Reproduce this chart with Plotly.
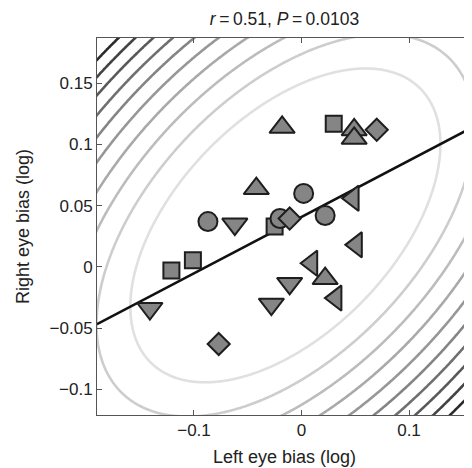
import numpy as np
import plotly.graph_objects as go

# ---- data ----
square_x = [-0.121, -0.101, -0.025, 0.030]
square_y = [-0.003, 0.0055, 0.033, 0.117]
circle_x = [-0.087, -0.020, 0.002, 0.022]
circle_y = [0.037, 0.0395, 0.060, 0.042]
diamond_x = [-0.011, 0.070, -0.077]
diamond_y = [0.0395, 0.112, -0.063]
tri_up_x = [-0.018, -0.042, 0.049, 0.049, 0.022]
tri_up_y = [0.114, 0.064, 0.112, 0.105, -0.0095]
tri_down_x = [-0.062, -0.141, -0.028, -0.011]
tri_down_y = [0.035, -0.034, -0.0305, -0.0135]
tri_left_x = [0.048, 0.051, 0.0095, 0.032]
tri_left_y = [0.056, 0.018, 0.003, -0.0255]

x_ticks = [-0.1, 0, 0.1]
x_tick_labels = ["\u22120.1", "0", "0.1"]
y_ticks = [-0.1, -0.05, 0, 0.05, 0.1, 0.15]
y_tick_labels = ["\u22120.1", "\u22120.05", "0", "0.05", "0.1", "0.15"]

x_range = [-0.1902, 0.1586]
y_range = [-0.121, 0.187]

# Mahalanobis contour levels (in squared-distance units)
contour_start = 6.1
contour_step = 2.95
contour_colors = ['#e0e0e0', '#cdcdcd', '#bcbcbc', '#a9a9a9', '#979797',
                  '#848484', '#6f6f6f', '#595959', '#434343', '#2a2a2a']

title_text = "<i>r</i>\u2009=\u20090.51, <i>P</i>\u2009=\u20090.0103"

# ---- derived ----
all_x = np.array(square_x + circle_x + diamond_x + tri_up_x + tri_down_x + tri_left_x)
all_y = np.array(square_y + circle_y + diamond_y + tri_up_y + tri_down_y + tri_left_y)
mx, my = all_x.mean(), all_y.mean()
cov = np.cov(np.vstack([all_x, all_y]))
icov = np.linalg.inv(cov)

gx = np.linspace(x_range[0] - 0.01, x_range[1] + 0.01, 300)
gy = np.linspace(y_range[0] - 0.01, y_range[1] + 0.01, 300)
GX, GY = np.meshgrid(gx, gy)
DX, DY = GX - mx, GY - my
Q = icov[0, 0] * DX**2 + 2 * icov[0, 1] * DX * DY + icov[1, 1] * DY**2

slope, intercept = np.polyfit(all_x, all_y, 1)
line_x = np.array(x_range)
line_y = slope * line_x + intercept

fig = go.Figure()
for k, col in enumerate(contour_colors):
    lv = contour_start + k * contour_step
    fig.add_trace(go.Contour(
        x=gx, y=gy, z=Q, showscale=False, hoverinfo='skip',
        contours=dict(start=lv, end=lv, size=1, coloring='none'),
        line=dict(color=col, width=2.6, smoothing=1.3),
    ))

fig.add_trace(go.Scatter(x=line_x, y=line_y, mode='lines',
                         line=dict(color='#111111', width=2.6), hoverinfo='skip'))

mk_line = dict(color='#1e1e1e', width=2)
fill = '#858585'
groups = [
    (square_x, square_y, 'square', 16),
    (circle_x, circle_y, 'circle', 19),
    (diamond_x, diamond_y, 'diamond', 17),
    (tri_up_x, tri_up_y, 'triangle-up', 22),
    (tri_down_x, tri_down_y, 'triangle-down', 22),
    (tri_left_x, tri_left_y, 'triangle-left', 22),
]
for gxs, gys, sym, sz in groups:
    fig.add_trace(go.Scatter(x=gxs, y=gys, mode='markers',
                             marker=dict(symbol=sym, size=sz, color=fill, line=mk_line)))

font = "Liberation Sans, Arial, Helvetica, sans-serif"
axis_common = dict(showgrid=False, zeroline=False, showline=True, linecolor='#555555',
                   linewidth=1, ticks='inside', ticklen=5, tickcolor='#555555',
                   mirror='ticks', automargin=False,
                   tickfont=dict(size=17, color='#222222'))

# the page body adds an 8px offset; the figure is sized to fill the rest
fig.update_layout(
    width=464, height=460,
    margin=dict(l=89, r=0, t=30, b=53),
    paper_bgcolor='white', plot_bgcolor='white',
    showlegend=False,
    font=dict(family=font, color='#222222', size=17),
    title=dict(text=title_text, x=0.5, xref='paper', y=1 - 10.5 / 460, yref='container',
               yanchor='middle', pad=dict(t=0, b=0), font=dict(size=17.5)),
    xaxis=dict(range=x_range, tickvals=x_ticks, ticktext=x_tick_labels,
               title=dict(text="Left eye bias (log)", standoff=10, font=dict(size=18)),
               **axis_common),
    yaxis=dict(range=y_range, tickvals=y_ticks, ticktext=y_tick_labels,
               title=dict(text="Right eye bias (log)", standoff=15, font=dict(size=18)),
               **axis_common),
)

fig.write_html("out.html")
